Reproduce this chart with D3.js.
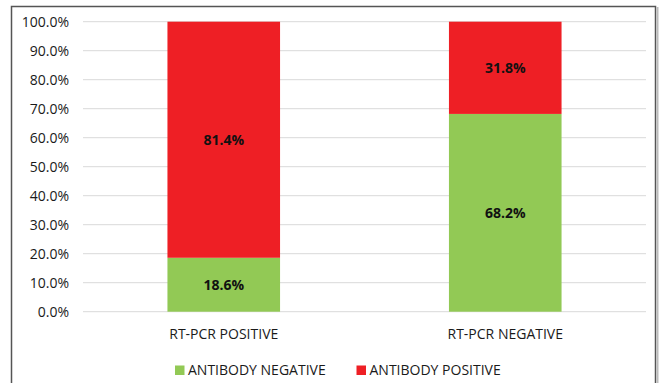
<!DOCTYPE html>
<html>
<head>
<meta charset="utf-8">
<script src="https://cdn.jsdelivr.net/npm/d3@7"></script>
<style>
  html, body { margin: 0; padding: 0; background: #fff; }
  svg { display: block; font-family: "Open Sans", sans-serif; }
</style>
</head>
<body>
<svg id="chart" width="659" height="383"></svg>
<script>
// Stacked 100% columns: antibody status by RT-PCR result
const categories = ["RT-PCR POSITIVE", "RT-PCR NEGATIVE"];
const seriesNames = ["ANTIBODY NEGATIVE", "ANTIBODY POSITIVE"];
const antibodyNegative = [18.6, 68.2];
const antibodyPositive = [81.4, 31.8];
const yTicks = [0, 10, 20, 30, 40, 50, 60, 70, 80, 90, 100];
const colors = ["#92c955", "#ee1f25"];

const svg = d3.select("#chart");
const W = 659, H = 383;

// outer frame
svg.append("rect")
  .attr("x", 11.5).attr("y", 6.5)
  .attr("width", 644).attr("height", H)
  .attr("fill", "none").attr("stroke", "#555").attr("stroke-width", 1.5);
svg.append("rect")
  .attr("x", 656.5).attr("y", 7)
  .attr("width", 2).attr("height", H)
  .attr("fill", "#bbb");

const plot = { left: 83, right: 646, top: 21.7, bottom: 311.7 };

const x = d3.scaleBand()
  .domain(categories)
  .range([plot.left, plot.right])
  .paddingInner(0.6)
  .paddingOuter(0.3);

const y = d3.scaleLinear()
  .domain([0, 100])
  .range([plot.bottom, plot.top]);

// gridlines
svg.append("g")
  .selectAll("line")
  .data(yTicks)
  .join("line")
  .attr("x1", plot.left).attr("x2", plot.right)
  .attr("y1", d => y(d)).attr("y2", d => y(d))
  .attr("stroke", "#d9d9d9").attr("stroke-width", 1);

// y axis labels
const yAxis = d3.axisLeft(y)
  .tickValues(yTicks)
  .tickFormat(d => d.toFixed(1) + "%")
  .tickSize(0)
  .tickPadding(0);
const yG = svg.append("g")
  .attr("transform", `translate(69,0)`)
  .call(yAxis);
yG.select(".domain").remove();
yG.selectAll("text")
  .attr("font-family", "Open Sans, sans-serif")
  .attr("font-size", 14)
  .attr("fill", "#1a1a1a");

// stacked data
const rows = categories.map((c, i) => ({
  cat: c,
  [seriesNames[0]]: antibodyNegative[i],
  [seriesNames[1]]: antibodyPositive[i]
}));
const stack = d3.stack().keys(seriesNames)(rows);

const layers = svg.append("g")
  .selectAll("g")
  .data(stack)
  .join("g")
  .attr("fill", (d, i) => colors[i]);

layers.selectAll("rect")
  .data(d => d)
  .join("rect")
  .attr("x", d => x(d.data.cat))
  .attr("width", x.bandwidth())
  .attr("y", d => y(d[1]))
  .attr("height", d => y(d[0]) - y(d[1]));

// value labels
layers.selectAll("text")
  .data((d, i) => d.map(p => ({ p, key: seriesNames[i] })))
  .join("text")
  .attr("x", d => x(d.p.data.cat) + x.bandwidth() / 2)
  .attr("y", d => (y(d.p[0]) + y(d.p[1])) / 2)
  .attr("dy", "0.35em")
  .attr("text-anchor", "middle")
  .attr("font-size", 14)
  .attr("font-weight", "bold")
  .attr("fill", "#111")
  .text(d => d.p.data[d.key].toFixed(1) + "%");

// category axis labels
const xAxis = d3.axisBottom(x).tickSize(0).tickPadding(0);
const xG = svg.append("g")
  .attr("transform", `translate(0,${plot.bottom + 17})`)
  .call(xAxis);
xG.select(".domain").remove();
xG.selectAll("text")
  .attr("font-family", "Open Sans, sans-serif")
  .attr("font-size", 14)
  .attr("fill", "#1a1a1a");

// legend
const legendX = [175, 356.5];
const legend = svg.append("g")
  .selectAll("g")
  .data(seriesNames)
  .join("g")
  .attr("transform", (d, i) => `translate(${legendX[i]},365.5)`);
legend.append("rect")
  .attr("width", 9.5).attr("height", 9.5)
  .attr("fill", (d, i) => colors[i]);
legend.append("text")
  .attr("x", 13).attr("y", 5)
  .attr("dy", "0.35em")
  .attr("font-size", 14)
  .attr("fill", "#1a1a1a")
  .text(d => d);
</script>
</body>
</html>
